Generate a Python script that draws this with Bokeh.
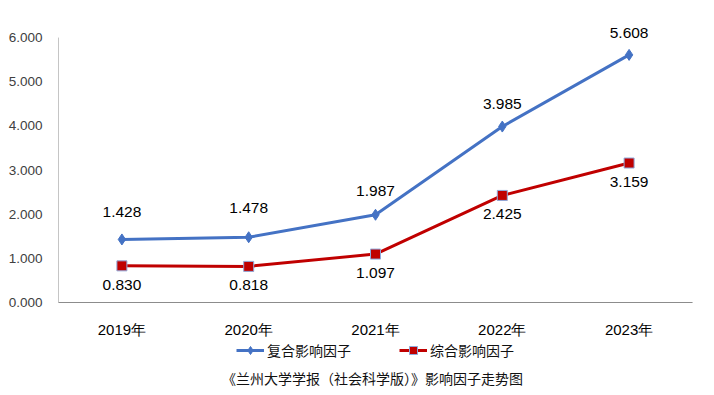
from bokeh.plotting import figure
from bokeh.layouts import column
from bokeh.models import (ColumnDataSource, Legend, LegendItem, Label, FixedTicker,
                          CustomJSTickFormatter, Range1d, FactorRange)
from bokeh.core.properties import value
from bokeh.embed import file_html
from bokeh.resources import INLINE

years = ["2019年", "2020年", "2021年", "2022年", "2023年"]
composite = [1.428, 1.478, 1.987, 3.985, 5.608]
comprehensive = [0.830, 0.818, 1.097, 2.425, 3.159]
series_names = ["复合影响因子", "综合影响因子"]
caption = "《兰州大学学报（社会科学版）》影响因子走势图"
y_ticks = [0, 1, 2, 3, 4, 5, 6]
y_max = 6

# label offsets in screen pixels (style, not data)
blue_off = [-27, -29, -24, -23, -22]
red_off = [19, 19, 19, 19, 19]

BLUE = "#4472C4"
RED = "#C00000"
AXIS = "#8C8C8C"
FONT = "Liberation Sans"
CJK = "Noto Sans CJK SC"

src = ColumnDataSource(dict(
    x=years, a=composite, b=comprehensive,
    at=[f"{v:.3f}" for v in composite], bt=[f"{v:.3f}" for v in comprehensive],
    ao=blue_off, bo=red_off,
))

p = figure(x_range=FactorRange(*years, range_padding=0), y_range=Range1d(0, 6.5),
           width=714, height=340, output_backend="svg", toolbar_location=None,
           min_border_left=58, min_border_right=22, min_border_top=15,
           min_border_bottom=37)
p.outline_line_color = None
p.grid.visible = False
p.background_fill_color = "white"
p.border_fill_color = "white"

# y axis (line drawn only up to the top tick)
p.yaxis.ticker = FixedTicker(ticks=y_ticks)
p.yaxis.formatter = CustomJSTickFormatter(code="return tick.toFixed(3);")
p.yaxis.major_tick_line_color = None
p.yaxis.minor_tick_line_color = None
p.yaxis.axis_line_color = None
p.yaxis.major_label_text_font = FONT
p.yaxis.major_label_text_font_size = "13.5px"
p.yaxis.major_label_text_color = "#404040"
p.yaxis.major_label_standoff = 10
p.segment(x0=[0], x1=[0], y0=[0], y1=[y_max], line_color=AXIS, line_width=1)

# x axis
p.xaxis.axis_line_color = AXIS
p.xaxis.major_tick_line_color = None
p.xaxis.minor_tick_line_color = None
p.xaxis.major_label_text_font = FONT
p.xaxis.major_label_text_font_size = "15px"
p.xaxis.major_label_text_font_style = "normal"
p.xaxis.major_label_text_color = "#000000"
p.xaxis.major_label_standoff = 12

# category boundary ticks below the x axis
bounds = list(range(len(years) + 1))
p.segment(x0=bounds, x1=bounds, y0=[0]*len(bounds), y1=[-0.13]*len(bounds),
          line_color=AXIS, line_width=1)

l1 = p.line("x", "a", source=src, line_color=BLUE, line_width=3)
m1 = p.scatter("x", "a", source=src, marker="diamond", size=11, fill_color=BLUE, line_color=BLUE)
l2 = p.line("x", "b", source=src, line_color=RED, line_width=3)
m2 = p.scatter("x", "b", source=src, marker="square", size=10, fill_color=RED,
               line_color="#8EA9DB", line_width=1)

p.text("x", "a", text="at", source=src, y_offset="ao", text_align="center", text_baseline="middle",
       text_font=value(FONT), text_font_size="15.5px", text_color="#000000")
p.text("x", "b", text="bt", source=src, y_offset="bo", text_align="center", text_baseline="middle",
       text_font=value(FONT), text_font_size="15.5px", text_color="#000000")

# ---- legend + caption strip (its frame is aligned with the main frame, left = 58) ----
q = figure(width=714, height=55, output_backend="svg", toolbar_location=None,
           x_range=Range1d(0, 1), y_range=Range1d(0, 1),
           min_border_left=58, min_border_right=22, min_border_top=0, min_border_bottom=0)
q.axis.visible = False
q.grid.visible = False
q.outline_line_color = None

nan = [float("nan")]
dl1 = q.line(x=nan, y=nan, line_color=BLUE, line_width=3)
dm1 = q.scatter(x=nan, y=nan, marker="diamond", size=11, fill_color=BLUE, line_color=BLUE)
dl2 = q.line(x=nan, y=nan, line_color=RED, line_width=3)
dm2 = q.scatter(x=nan, y=nan, marker="square", size=10, fill_color=RED,
                line_color="#8EA9DB", line_width=1)

legend = Legend(items=[LegendItem(label=series_names[0], renderers=[dl1, dm1]),
                       LegendItem(label=series_names[1], renderers=[dl2, dm2])],
                orientation="horizontal", location=(178, 35),
                label_text_font=CJK, label_text_font_size="14px",
                label_text_color="#111111", border_line_color=None,
                background_fill_alpha=0, spacing=48, glyph_width=28, glyph_height=20,
                padding=0, margin=0, label_standoff=3)
q.add_layout(legend, "center")

cap = Label(x=314, y=18, x_units="screen", y_units="screen", text=caption,
            text_align="center", text_baseline="middle", text_font=CJK,
            text_font_size="14px", text_color="#111111")
q.add_layout(cap)

layout = column(p, q, spacing=0)
open("out.html", "w").write(file_html(layout, INLINE))
